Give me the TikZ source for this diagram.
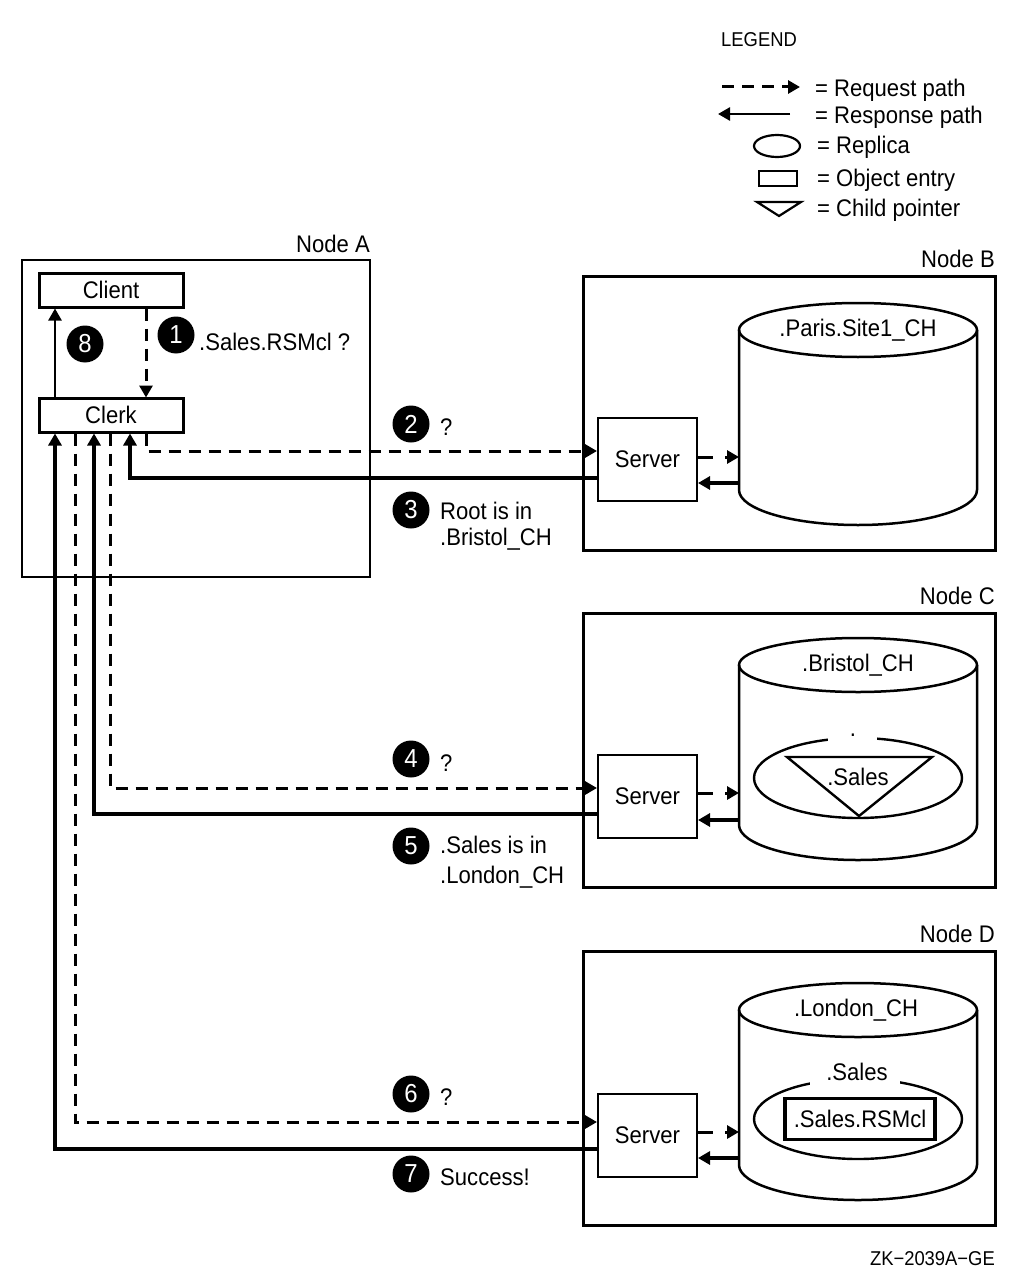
\documentclass[tikz,border=0pt]{standalone}
\usepackage{fontspec}
\setmainfont{Liberation Sans}[FakeStretch=0.92]
\usetikzlibrary{arrows.meta}
\begin{document}
\begin{tikzpicture}[x=1pt,y=-1pt,
  txt/.style={font=\fontsize{24}{28}\selectfont, inner sep=0pt},
  small/.style={font=\fontsize{20}{24}\selectfont, inner sep=0pt},
  num/.style={circle, fill=black, minimum size=37pt, inner sep=0pt, text=white, font=\fontsize{26}{26}\selectfont},
  tip/.style={-{Triangle[length=12pt,width=13pt]}},
  req/.style={line width=3pt, dash pattern=on 12pt off 8pt, tip},
  resp/.style={line width=3.2pt, tip},
  respthin/.style={line width=2.6pt, tip},
  box/.style={draw, line width=3pt, minimum width=144pt, minimum height=34pt, txt},
  serverbox/.style={draw, line width=2pt, minimum width=99pt, minimum height=83pt, txt},
  nodebox/.style={line width=3pt},
  cyl/.style={line width=2.5pt}
]
\useasboundingbox (0,0) rectangle (1021,1281);

% ---------------- Legend ----------------
\node[small, anchor=base west] (legend) at (721,47) {LEGEND};
\coordinate (lq1) at (722,87); \coordinate (lq2) at (800,87);
\draw[req] (lq1) -- (lq2);
\coordinate (lr1) at (790,114); \coordinate (lr2) at (718,114);
\draw[respthin] (lr1) -- (lr2);
\draw[line width=2.2pt] (777,146) ellipse[x radius=23, y radius=11];
\draw[line width=2.2pt] (759,171) rectangle (797,186);
\draw[line width=2.2pt] (757,202) -- (801,202) -- (779,216) -- cycle;
\node[txt, anchor=base west] (l1) at (815,97) {= Request path};
\node[txt, anchor=base west] (l2) at (815,124) {= Response path};
\node[txt, anchor=base west] (l3) at (817,154) {= Replica};
\node[txt, anchor=base west] (l4) at (817,187) {= Object entry};
\node[txt, anchor=base west] (l5) at (817,217) {= Child pointer};

% ---------------- Node A ----------------
\draw[line width=2pt] (22,260) rectangle (370,577);
\node[txt, anchor=base east] (labA) at (370,252) {Node A};
\node[box] (client) at (111,290) {Client};
\node[box] (clerk) at (111,415) {Clerk};
\coordinate (x55) at (55,0);
\coordinate (x75) at (75,0);
\coordinate (x94) at (94,0);
\coordinate (x110) at (110,0);
\coordinate (x130) at (130,0);
\coordinate (x146) at (146,0);
\draw[line width=2.4pt, tip] (x55 |- clerk.north) -- (x55 |- client.south);
\draw[req] (x146 |- client.south) -- ([yshift=-1pt]x146 |- clerk.north);
\node[num] (n8) at (85,344) {8};
\node[num] (n1) at (176,335) {1};
\node[txt, anchor=base west] (t1) at (199,350) {.Sales.RSMcl ?};

% ---------------- Node B ----------------
\draw[nodebox] (583,276) rectangle (995,550);
\node[txt, anchor=base east] (labB) at (995,267) {Node B};
\node[serverbox] (serverB) at (647.5,459.5) {Server};
\draw[cyl] (858,330) ellipse[x radius=119, y radius=27];
\draw[cyl] (739,330) -- (739,490) .. controls (739,509.3) and (792.3,525) .. (858,525)
  .. controls (923.7,525) and (977,509.3) .. (977,490) -- (977,330);
\node[txt] (cylB) at (858,330) {.Paris.Site1\_CH};
\draw[req, dash pattern=on 15pt off 12pt] (serverB.east |- 0,457) -- (739,457);
\draw[resp] (739,483) -- (serverB.east |- 0,483);
\draw[req] (x146 |- clerk.south) |- (serverB.west |- 0,451);
\draw[resp] (serverB.west |- 0,478) -| (x130 |- clerk.south);
\node[num] (n2) at (411,424) {2};
\node[txt, anchor=base west] (t2) at (440,435) {?};
\node[num] (n3) at (411,510) {3};
\node[txt, anchor=base west] (t3a) at (440,519) {Root is in};
\node[txt, anchor=base west] (t3b) at (440,545) {.Bristol\_CH};

% ---------------- Node C ----------------
\draw[nodebox] (583,613) rectangle (995,887);
\node[txt, anchor=base east] (labC) at (995,604) {Node C};
\node[serverbox] (serverC) at (647.5,796.5) {Server};
\draw[cyl] (858,665) ellipse[x radius=119, y radius=27];
\draw[cyl] (739,665) -- (739,825) .. controls (739,844.3) and (792.3,860) .. (858,860)
  .. controls (923.7,860) and (977,844.3) .. (977,825) -- (977,665);
\node[txt] (cylC) at (858,665) {.Bristol\_CH};
\draw[line width=2.4pt] (858,778) ellipse[x radius=104, y radius=40];
\fill[white] (828,730) rectangle (877,743);
\node[txt, anchor=base] (dotC) at (853,736) {.};
\draw[line width=2.4pt, line join=miter] (787,757) -- (932,757) -- (859,816) -- cycle;
\node[txt] (salesC) at (858,777) {.Sales};
\draw[req, dash pattern=on 15pt off 12pt] (serverC.east |- 0,793) -- (739,793);
\draw[resp] (739,820) -- (serverC.east |- 0,820);
\draw[req] (x110 |- clerk.south) |- (serverC.west |- 0,788);
\draw[resp] (serverC.west |- 0,814) -| (x94 |- clerk.south);
\node[num] (n4) at (411,759) {4};
\node[txt, anchor=base west] (t4) at (440,771) {?};
\node[num] (n5) at (411,846) {5};
\node[txt, anchor=base west] (t5a) at (440,853) {.Sales is in};
\node[txt, anchor=base west] (t5b) at (440,883) {.London\_CH};

% ---------------- Node D ----------------
\draw[nodebox] (583,951) rectangle (995,1225);
\node[txt, anchor=base east] (labD) at (995,942) {Node D};
\node[serverbox] (serverD) at (647.5,1135.5) {Server};
\draw[cyl] (858,1010) ellipse[x radius=119, y radius=27];
\draw[cyl] (739,1010) -- (739,1165) .. controls (739,1184.3) and (792.3,1200) .. (858,1200)
  .. controls (923.7,1200) and (977,1184.3) .. (977,1165) -- (977,1010);
\node[txt] (cylD) at (856,1010) {.London\_CH};
\draw[line width=2.4pt] (858,1119) ellipse[x radius=104, y radius=40];
\fill[white] (810,1070) rectangle (900,1085);
\node[txt] (salesD) at (857,1072) {.Sales};
\node[draw, line width=3.4pt, minimum width=150pt, minimum height=41pt, txt] (rsmcl) at (860,1119) {.Sales.RSMcl};
\draw[req, dash pattern=on 15pt off 12pt] (serverD.east |- 0,1132) -- (739,1132);
\draw[resp] (739,1158) -- (serverD.east |- 0,1158);
\draw[req] (x75 |- clerk.south) |- (serverD.west |- 0,1122);
\draw[resp] (serverD.west |- 0,1149) -| (x55 |- clerk.south);
\node[num] (n6) at (411,1094) {6};
\node[txt, anchor=base west] (t6) at (440,1105) {?};
\node[num] (n7) at (411,1174) {7};
\node[txt, anchor=base west] (t7) at (440,1185) {Success!};

\node[small, anchor=base east] (zk) at (995,1265) {ZK−2039A−GE};
\end{tikzpicture}
\end{document}
